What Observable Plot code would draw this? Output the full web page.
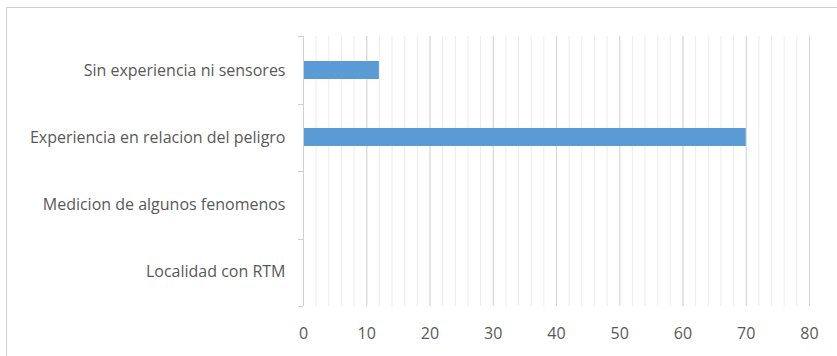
<!DOCTYPE html>
<html>
<head>
<meta charset="utf-8">
<script src="https://cdn.jsdelivr.net/npm/d3@7"></script>
<script src="https://cdn.jsdelivr.net/npm/@observablehq/plot@0.6"></script>
<style>
  html, body { margin: 0; padding: 0; background: #fff; overflow: hidden; }
  #wrap { position: relative; width: 837px; height: 356px; }
  #frame { position: absolute; left: 6px; top: 7px; width: 900px; height: 400px;
           border: 1px solid #d0d0d0; box-sizing: border-box; }
  #chart { position: absolute; left: 0; top: 0; }
  #chart text { fill: #595959; }
</style>
</head>
<body>
<div id="wrap">
  <div id="frame"></div>
  <div id="chart"></div>
</div>
<script>
// Categories, top to bottom
const categories = [
  "Sin experiencia ni sensores",
  "Experiencia en relacion del peligro",
  "Medicion de algunos fenomenos",
  "Localidad con RTM"
];
const values = [12, 70, 0, 0];
const majorTicks = [0, 10, 20, 30, 40, 50, 60, 70, 80];
const minorTicks = [0, 2, 4, 6, 8, 10, 12, 14, 16, 18, 20, 22, 24, 26, 28, 30, 32, 34, 36, 38,
                    40, 42, 44, 46, 48, 50, 52, 54, 56, 58, 60, 62, 64, 66, 68, 70, 72, 74, 76, 78, 80];

const data = categories.map((c, i) => ({category: c, value: values[i]}));

// Short tick marks on the category axis, at the band boundaries
const bandBoundaries = (index, scales, channels, dims) => {
  const g = d3.create("svg:g");
  const top = dims.marginTop, bottom = dims.height - dims.marginBottom;
  const x0 = scales.x(0);
  const n = categories.length;
  for (let i = 0; i <= n; i++) {
    const y = Math.round(top + (bottom - top) * i / n) + 0.5;
    g.append("line")
      .attr("x1", x0 - 5).attr("x2", x0)
      .attr("y1", y).attr("y2", y)
      .attr("stroke", "#d0d0d0");
  }
  return g.node();
};

const chart = Plot.plot({
  width: 837,
  height: 356,
  marginLeft: 303,
  marginRight: 28,
  marginTop: 36,
  marginBottom: 50,
  style: {fontFamily: "'Open Sans', sans-serif", fontSize: "16px", background: "transparent"},
  x: {domain: [0, 80], ticks: majorTicks, tickSize: 0, tickPadding: 21, label: null},
  y: {domain: categories, paddingInner: 0.73, paddingOuter: 0.365, tickSize: 0, tickPadding: 18, label: null},
  marks: [
    Plot.ruleX(minorTicks, {stroke: "#ececec", strokeWidth: 1}),
    Plot.ruleX(majorTicks, {stroke: "#d4d4d4", strokeWidth: 1}),
    Plot.barX(data, {x: "value", y: "category", fill: "#5b9bd5"}),
    Plot.ruleX([0], {stroke: "#d0d0d0"}),
    bandBoundaries
  ]
});
document.getElementById("chart").appendChild(chart);
</script>
</body>
</html>
